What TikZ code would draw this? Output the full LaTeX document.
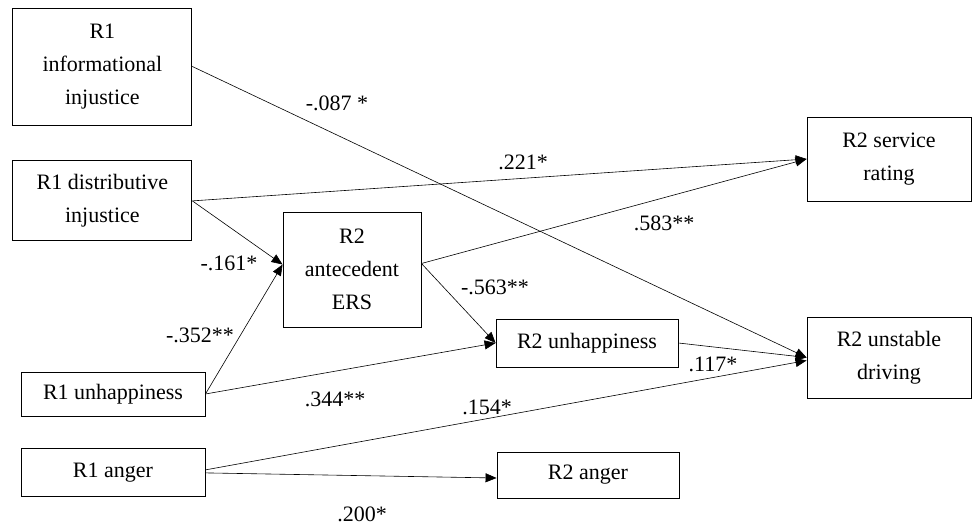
\documentclass[tikz,border=0pt]{standalone}
\usepackage{fontspec}
\setmainfont{Liberation Serif}
\usetikzlibrary{arrows.meta,positioning}
\tikzstyle{BOX} = [rectangle, draw, line width=0.9pt, inner sep=0pt, align=center, text centered]
\tikzstyle{LINE} = [draw, line width=0.6pt, -{Triangle[length=11pt,width=9pt]}]
\tikzstyle{COEF} = [inner sep=0pt]
\begin{document}
\begin{tikzpicture}[x=1pt, y=-1pt, font=\fontsize{22}{33}\selectfont, node distance=35pt]
\useasboundingbox (0,0) rectangle (972,526);
% Place node
\node [BOX, minimum width=179pt, minimum height=117pt] (R1_INFO) at (102.4,66.5) {R1\\ informational\\ injustice};
\node [BOX, minimum width=179pt, minimum height=80pt, below=35pt of R1_INFO] (R1_DIST) {R1 distributive\\ injustice};
\node [BOX, minimum width=184pt, minimum height=44pt] (R1_UNHAPPY) at (113,394) {R1 unhappiness};
\node [BOX, minimum width=184pt, minimum height=48pt, below=32pt of R1_UNHAPPY] (R1_ANGER) {R1 anger};
\node [BOX, minimum width=138pt, minimum height=115pt] (R2_ERS) at (352,269.5) {R2\\ antecedent\\ ERS};
\node [BOX, minimum width=182pt, minimum height=48pt] (R2_UNHAPPY) at (587,343) {R2 unhappiness};
\node [BOX, minimum width=182pt, minimum height=46pt] (R2_ANGER) at (588,475) {R2 anger};
\node [BOX, minimum width=164pt, minimum height=84pt] (R2_SERVICE) at (889,159) {R2 service\\ rating};
\node [BOX, minimum width=164pt, minimum height=81pt] (R2_DRIVING) at (889,357.5) {R2 unstable\\ driving};
%
\node [COEF] (l_1) at (337,103) {-.087 *};
\node [COEF] (l_2) at (523,162) {.221*};
\node [COEF] (l_3) at (229,263) {-.161*};
\node [COEF] (l_4) at (200,335) {-.352**};
\node [COEF] (l_5) at (664,223) {.583**};
\node [COEF] (l_6) at (495,287) {-.563**};
\node [COEF] (l_7) at (335,399) {.344**};
\node [COEF] (l_8) at (713,364) {.117*};
\node [COEF] (l_9) at (487,407) {.154*};
\node [COEF] (l_10) at (362,514) {.200*};
% LINES and ARROWS
\path [LINE] (R1_INFO.east) -- (R2_DRIVING.west);
\path [LINE] (R1_DIST.east) -- (R2_SERVICE.west);
\path [LINE] (R1_DIST.east) -- ([yshift=5pt]R2_ERS.west);
\path [LINE] (R1_UNHAPPY.east) -- ([yshift=5pt]R2_ERS.west);
\path [LINE] (R1_UNHAPPY.east) -- (R2_UNHAPPY.west);
\path [LINE] ([yshift=6pt]R2_ERS.east) -- (R2_SERVICE.west);
\path [LINE] ([yshift=6pt]R2_ERS.east) -- (R2_UNHAPPY.west);
\path [LINE] (R2_UNHAPPY.east) -- (R2_DRIVING.west);
\path [LINE] ([yshift=3pt]R1_ANGER.east) -- ([yshift=-3pt]R2_DRIVING.west);
\path [LINE] (R1_ANGER.east) -- ([yshift=-3pt]R2_ANGER.west);
\end{tikzpicture}
\end{document}
